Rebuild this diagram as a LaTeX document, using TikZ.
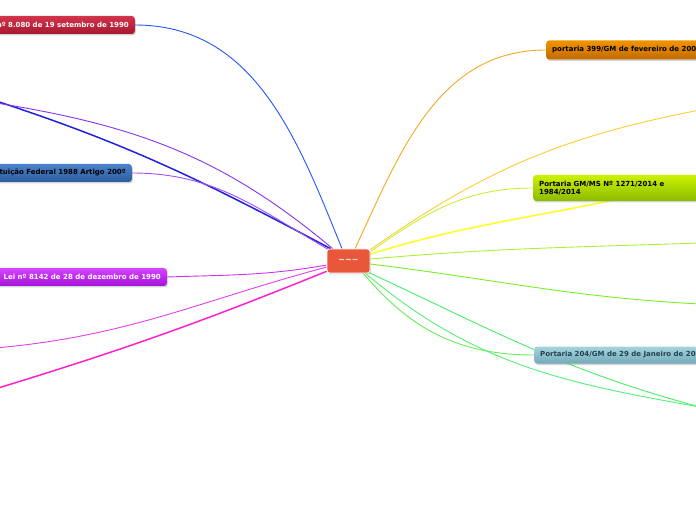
\documentclass[tikz,border=0pt]{standalone}
\usepackage{fontspec}
\setmainfont{DejaVu Sans}
\usetikzlibrary{calc,shadows}
\pgfdeclarelayer{bg}
\pgfsetlayers{bg,main}
\definecolor{cRedT}{HTML}{D2344C}\definecolor{cRedB}{HTML}{A8182E}
\definecolor{cBluT}{HTML}{4B82CB}\definecolor{cBluB}{HTML}{2C5C9E}
\definecolor{cPurT}{HTML}{D446FF}\definecolor{cPurB}{HTML}{A412D6}
\definecolor{cOraT}{HTML}{F29400}\definecolor{cOraB}{HTML}{C06A00}
\definecolor{cYgrT}{HTML}{CCF200}\definecolor{cYgrB}{HTML}{8CBA00}
\definecolor{cTeaT}{HTML}{A6D4DE}\definecolor{cTeaB}{HTML}{72AABA}
\definecolor{cCen}{HTML}{E8573A}
\definecolor{cTeaTx}{HTML}{24424E}
\tikzset{
  topic/.style={rounded corners=3pt, minimum height=18pt, inner xsep=6pt, inner ysep=3pt,
    font=\fontsize{7}{8}\selectfont\bfseries, drop shadow={shadow xshift=1pt, shadow yshift=-1.5pt, opacity=0.35}},
  link/.style={line width=0.9pt},
  thick link/.style={line width=1.5pt},
}
\begin{document}
\begin{tikzpicture}[x=1pt,y=1pt]
\useasboundingbox (0,0) rectangle (696,520);
% central node
\node[rounded corners=3pt, fill=cCen, draw=white, line width=0.6pt, minimum width=43pt, minimum height=24pt,
  text=white, font=\fontsize{8}{9}\selectfont\bfseries,
  drop shadow={shadow xshift=1pt, shadow yshift=-1.5pt, opacity=0.3}] (c) at (348.5,259) {\textasciitilde\textasciitilde\textasciitilde};
% topics
\node[topic, anchor=east, top color=cRedT, bottom color=cRedB, text=white] (t1) at (135,495) {Lei nº 8.080 de 19 setembro de 1990};
\node[topic, anchor=east, top color=cBluT, bottom color=cBluB, text=black] (t2) at (132,347) {Constituição Federal 1988 Artigo 200º};
\node[topic, anchor=east, top color=cPurT, bottom color=cPurB, text=white] (t3) at (167,243) {Lei nº 8142 de 28 de dezembro de 1990};
\node[topic, anchor=west, top color=cOraT, bottom color=cOraB, text=black, minimum height=19pt] (t4) at (546,470) {portaria 399/GM de fevereiro de 2006};
\node[topic, anchor=west, top color=cYgrT, bottom color=cYgrB, text=black, minimum height=26pt, align=left,
  font=\fontsize{7}{8}\selectfont\bfseries] (t5) at (533,332) {Portaria GM/MS Nº 1271/2014 e\\1984/2014\hspace*{130pt}};
\node[topic, anchor=west, top color=cTeaT, bottom color=cTeaB, text=cTeaTx, minimum height=17pt] (t6) at (534,165) {Portaria 204/GM de 29 de Janeiro de 2007};
% free ends of branches to topics outside the picture
\coordinate (f1) at (-10,421);
\coordinate (f2) at (-10,418);
\coordinate (f3) at (-5,172);
\coordinate (f4) at (-5,131);
\coordinate (f5) at (700,410);
\coordinate (f6) at (640,326);
\coordinate (f7) at (700,277);
\coordinate (f8) at (700,216);
\coordinate (f9) at (700,113);
% start points on the central node
\coordinate (s1) at ($(c.north)+(-6.5,0)$);
\coordinate (s2) at ($(c.north west)+(4,0)$);
\coordinate (s3) at ($(c.north west)+(6,0)$);
\coordinate (s4) at ($(c.north west)+(2,-1)$);
\coordinate (s5) at ($(c.west)+(0,-4)$);
\coordinate (s6) at ($(c.west)+(0,-6)$);
\coordinate (s7) at ($(c.south west)+(0,2)$);
\coordinate (s8) at ($(c.north)+(6.5,0)$);
\coordinate (s9) at ($(c.north east)+(0,-1)$);
\coordinate (s10) at ($(c.north east)+(0,-3)$);
\coordinate (s11) at ($(c.east)+(0,7)$);
\coordinate (s12) at ($(c.east)+(0,2)$);
\coordinate (s13) at ($(c.east)+(0,-3)$);
\coordinate (s14) at ($(c.south east)+(-7,0)$);
\coordinate (s15) at ($(c.south east)+(-2,1)$);
\coordinate (s16) at ($(c.south east)+(-5,0)$);
\begin{pgfonlayer}{bg}
\draw[link, draw={rgb,255:red,34;green,85;blue,255}] (s1) to[out=112,in=0] (t1.east);
\draw[thick link, draw={rgb,255:red,34;green,34;blue,221}] (s2) to[out=152,in=-18] (f1);
\draw[link, draw={rgb,255:red,136;green,51;blue,238}] (s3) to[out=140,in=-9] (f2);
\draw[link, draw={rgb,255:red,166;green,77;blue,240}] (s4) to[out=150,in=0] (t2.east);
\draw[link, draw={rgb,255:red,204;green,51;blue,238}] (s5) to[out=190,in=2] (t3.east);
\draw[link, draw={rgb,255:red,226;green,63;blue,232}] (s6) to[out=195,in=5] (f3);
\draw[thick link, draw={rgb,255:red,255;green,34;blue,204}] (s7) to[out=202,in=17] (f4);
\draw[link, draw={rgb,255:red,245;green,166;blue,35}] (s8) to[out=65,in=180] (t4.west);
\draw[link, draw={rgb,255:red,255;green,204;blue,51}] (s9) to[out=35,in=191] (f5);
\draw[link, draw={rgb,255:red,204;green,238;blue,51}] (s10) to[out=35,in=180] (t5.west);
\draw[thick link, draw={rgb,255:red,255;green,255;blue,34}] (s11) to[out=17,in=193] (f6);
\draw[link, draw={rgb,255:red,170;green,240;blue,51}] (s12) to[out=5,in=182] (f7);
\draw[link, draw={rgb,255:red,119;green,240;blue,34}] (s13) to[out=-7,in=177] (f8);
\draw[link, draw={rgb,255:red,102;green,238;blue,85}] (s14) to[out=-50,in=180] (t6.west);
\draw[link, draw={rgb,255:red,68;green,238;blue,102}] (s15) to[out=-25,in=165] (f9);
\draw[link, draw={rgb,255:red,85;green,238;blue,119}] (s16) to[out=-40,in=170] (f9);
\end{pgfonlayer}
\end{tikzpicture}
\end{document}
